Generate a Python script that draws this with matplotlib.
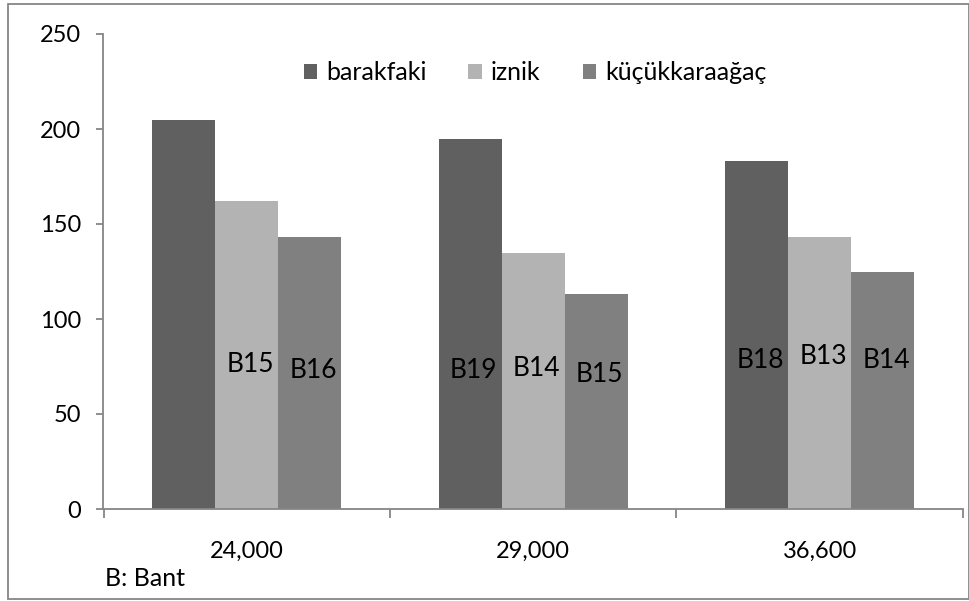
import matplotlib
matplotlib.use("Agg")
import matplotlib.pyplot as plt
from matplotlib.patches import Rectangle
import numpy as np

plt.rcParams['font.family'] = ['Lato', 'DejaVu Sans']

# Data
categories = ["24,000", "29,000", "36,600"]
series_names = ["barakfaki", "iznik", "küçükkaraağaç"]
barakfaki = [205, 195, 183]
iznik = [162, 135, 143]
kucukkaraagac = [143, 113, 125]
series_values = [barakfaki, iznik, kucukkaraagac]
colors = ["#606060", "#b3b3b3", "#808080"]

# Band labels written inside the bars (None = no label)
band_labels = [
    [None, "B19", "B18"],
    ["B15", "B14", "B13"],
    ["B16", "B15", "B14"],
]
band_label_y = [
    [None, 73, 78],
    [76, 74, 80],
    [73, 71, 78],
]
yticks = [0, 50, 100, 150, 200, 250]

W, H, DPI = 970, 601, 100
fig = plt.figure(figsize=(W / DPI, H / DPI), dpi=DPI)

# chart border
fig.patches.append(Rectangle((8 / W, 1 - 599 / H), (969 - 8) / W, (599 - 4) / H,
                             transform=fig.transFigure, fill=False,
                             edgecolor="#868686", linewidth=1.3))

ax = fig.add_axes([103.5 / W, 1 - 509 / H, (963 - 103.5) / W, (509 - 34) / H])

x = np.arange(len(categories))
bw = 0.22
for i, (name, vals, c) in enumerate(zip(series_names, series_values, colors)):
    ax.bar(x + (i - 1) * bw, vals, width=bw, color=c, label=name,
           edgecolor=c, linewidth=0)
    for j in range(len(categories)):
        lab = band_labels[i][j]
        if lab:
            ax.text(x[j] + (i - 1) * bw + 0.012, band_label_y[i][j], lab,
                    ha="center", va="center", fontsize=19, color="black")

ax.set_xlim(-0.5, len(categories) - 0.5)
ax.set_ylim(0, 250)
ax.set_yticks(yticks)
ax.set_yticklabels([str(v) for v in yticks])

# x ticks on category boundaries, labels at category centres
ax.set_xticks(np.arange(-0.5, len(categories), 1.0))
ax.set_xticklabels([])
ax.set_xticks(x, minor=True)
ax.set_xticklabels(categories, minor=True)

for s in ["top", "right"]:
    ax.spines[s].set_visible(False)
for s in ["left", "bottom"]:
    ax.spines[s].set_color("#868686")
    ax.spines[s].set_linewidth(1.3)

ax.tick_params(axis="y", which="major", length=5, width=1.3, color="#868686",
               labelsize=17, pad=11)
ax.tick_params(axis="x", which="major", direction="out", length=6.5, width=1.3,
               color="#868686")
ax.tick_params(axis="x", which="minor", length=0, labelsize=17, pad=23)

leg = ax.legend(loc="center", bbox_to_anchor=(0.502, 0.918), ncol=3,
                frameon=False, fontsize=18, handlelength=0.55, handleheight=0.55,
                handletextpad=0.35, columnspacing=1.68)

fig.text(105 / W, 1 - 578 / H, "B: Bant", ha="left", va="center", fontsize=18)

fig.savefig("out.png", dpi=DPI)
